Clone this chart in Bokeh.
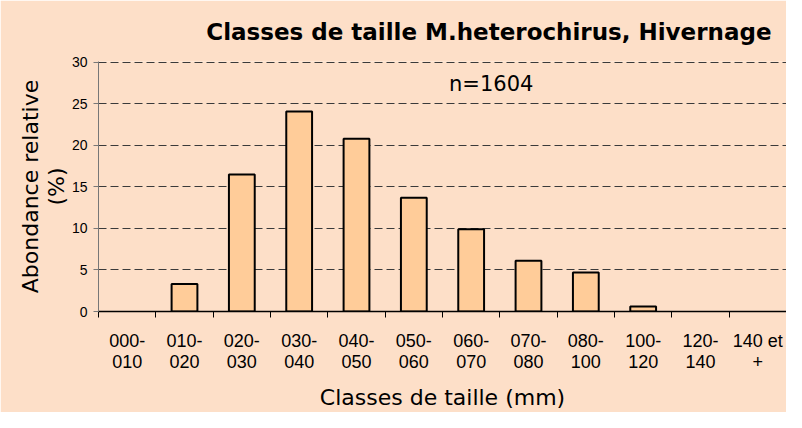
from bokeh.plotting import figure
from bokeh.models import Range1d, FixedTicker, CustomJSTickFormatter, Label, ColumnDataSource
from bokeh.embed import file_html
from bokeh.resources import INLINE

categories = ["000-\n010", "010-\n020", "020-\n030", "030-\n040", "040-\n050", "050-\n060",
              "060-\n070", "070-\n080", "080-\n100", "100-\n120", "120-\n140", "140 et\n+"]
values = [0.0, 3.3, 16.5, 24.1, 20.8, 13.7, 9.9, 6.1, 4.7, 0.6, 0.0, 0.0]
y_ticks = [0, 5, 10, 15, 20, 25, 30]
title = "Classes de taille M.heterochirus, Hivernage"
x_title = "Classes de taille (mm)"
y_title = "Abondance relative\n(%)"
note = "n=1604"

n = len(categories)
xs = [i + 0.5 for i in range(n)]
# zero-height classes are not drawn (as in the original)
src = ColumnDataSource(dict(x=[x for x, v in zip(xs, values) if v > 0],
                            top=[v for v in values if v > 0]))

BG = "#fddfc8"
p = figure(width=786, height=412, output_backend="svg", toolbar_location=None,
           x_range=Range1d(0, n), y_range=Range1d(0, 30.12),
           min_border_left=98, min_border_right=0, min_border_top=57, min_border_bottom=100)
p.background_fill_color = BG
p.border_fill_color = BG
p.outline_line_color = None

p.vbar(x="x", top="top", width=0.45, source=src, fill_color="#ffcc99",
       line_color="black", line_width=2)

# title
p.title.text = title
p.title.align = "right"
p.title.offset = 15
p.title.text_font = "DejaVu Sans"
p.title.text_font_style = "bold"
p.title.text_font_size = "23px"
p.title.text_color = "black"
p.title.standoff = 33

# x axis
xa = p.xaxis[0]
xa.ticker = FixedTicker(ticks=xs, minor_ticks=list(range(n + 1)))
xa.formatter = CustomJSTickFormatter(args=dict(labels=categories),
                                     code="return labels[Math.floor(tick)];")
xa.major_tick_out = 0
xa.major_tick_in = 0
xa.minor_tick_out = 6
xa.minor_tick_in = 0
xa.minor_tick_line_color = "black"
xa.axis_line_color = "black"
xa.axis_line_width = 1.5
xa.major_label_text_font = "Liberation Sans"
xa.major_label_text_font_size = "18px"
xa.major_label_text_color = "black"
xa.major_label_text_line_height = 1.05
xa.major_label_standoff = 13
xa.axis_label = x_title
xa.axis_label_text_font = "DejaVu Sans"
xa.axis_label_text_font_style = "normal"
xa.axis_label_text_font_size = "22px"
xa.axis_label_text_color = "black"
xa.axis_label_text_line_height = 0.9
xa.axis_label_standoff = 10

# y axis
ya = p.yaxis[0]
ya.ticker = FixedTicker(ticks=y_ticks, minor_ticks=[])
ya.axis_line_color = "#777777"
ya.major_tick_line_color = "#777777"
ya.major_tick_out = 5
ya.major_tick_in = 0
ya.minor_tick_out = 0
ya.minor_tick_in = 0
ya.major_label_text_font = "Liberation Sans"
ya.major_label_text_font_size = "14px"
ya.major_label_text_color = "black"
ya.major_label_standoff = 6
ya.axis_label = y_title
ya.axis_label_text_font = "DejaVu Sans"
ya.axis_label_text_font_style = "normal"
ya.axis_label_text_font_size = "22px"
ya.axis_label_text_color = "black"
ya.axis_label_text_line_height = 1.05
ya.axis_label_standoff = 0

p.xgrid.grid_line_color = None
p.ygrid.ticker = FixedTicker(ticks=y_ticks[1:])
p.ygrid.grid_line_color = "#3a3a3a"
p.ygrid.grid_line_dash = "8 4"
p.ygrid.grid_line_width = 1

p.add_layout(Label(x=6.85, y=27.4, text=note, text_align="center",
                   text_baseline="middle", text_font="DejaVu Sans",
                   text_font_size="21px", text_color="black"))

open("out.html", "w").write(file_html(p, INLINE))
